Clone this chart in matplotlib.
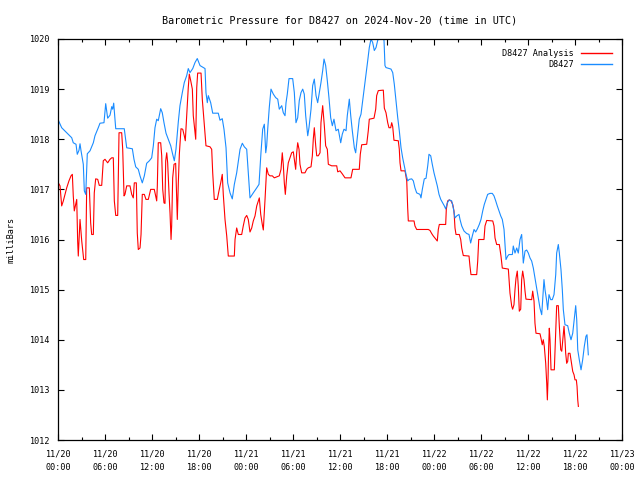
import numpy as np
import matplotlib
matplotlib.use('Agg')
import matplotlib.pyplot as plt
from matplotlib.ticker import MultipleLocator

# hours since 2024-11-20 00:00 UTC and pressure (mb)
obs_hours = [0.04, 0.47, 1.11, 1.75, 1.95, 2.30, 2.46, 2.68, 2.81, 2.94, 3.23, 3.36, 3.54,
             3.66, 3.74, 4.09, 4.51, 4.72, 5.14, 5.36, 5.87, 6.09, 6.34, 6.64, 6.86, 6.98,
             7.11, 7.28, 7.37, 8.46, 8.77, 9.49, 9.70, 9.92, 10.25, 10.47, 10.76, 11.02,
             11.32, 11.66, 11.96, 12.17, 12.38, 12.60, 12.80, 13.11, 13.31, 13.53, 13.79,
             14.08, 14.39, 14.64, 14.85, 15.06, 15.36, 15.57, 15.87, 16.12, 16.43, 16.63,
             16.85, 17.20, 17.49, 17.78, 18.13, 18.77, 18.89, 19.06, 19.19, 19.49, 19.75,
             20.46, 20.68, 20.97, 21.19, 21.45, 21.66, 21.96, 22.25, 22.51, 22.81, 23.24,
             23.53, 23.78, 24.09, 24.29, 24.51, 24.93, 25.37, 25.66, 25.91, 26.13, 26.34,
             26.52, 26.64, 26.77, 26.97, 27.19, 27.49, 27.79, 28.05, 28.25, 28.56, 28.76,
             28.98, 29.11, 29.27, 29.49, 29.96, 30.17, 30.38, 30.60, 30.80, 31.02, 31.24,
             31.44, 31.62, 31.88, 32.04, 32.30, 32.51, 32.72, 32.94, 33.15, 33.36, 33.57,
             33.79, 33.96, 34.17, 34.38, 34.59, 34.81, 35.02, 35.23, 35.49, 35.78, 36.09,
             36.29, 36.51, 36.77, 36.93, 37.19, 37.37, 37.57, 37.83, 38.00, 38.21, 38.46,
             38.68, 38.90, 39.10, 39.32, 39.54, 39.74, 39.96, 40.17, 40.38, 40.60, 40.81,
             41.11, 41.40, 41.62, 41.74, 41.87, 42.51, 42.73, 42.93, 43.15, 43.37, 43.57,
             43.79, 44.00, 44.21, 44.43, 44.64, 44.85, 45.15, 45.36, 45.57, 45.79, 46.21,
             46.34, 46.51, 46.76, 46.98, 47.20, 47.36, 47.58, 47.78, 48.00, 48.21, 48.42,
             48.64, 48.86, 49.11, 49.32, 49.49, 49.70, 49.95, 50.26, 50.46, 50.68, 50.90,
             51.19, 51.32, 51.54, 51.83, 52.17, 52.47, 52.68, 52.89, 53.11, 53.32, 53.53,
             53.78, 54.00, 54.22, 54.42, 54.64, 54.85, 55.15, 55.44, 55.66, 55.88, 56.08,
             56.30, 56.52, 56.72, 56.94, 57.06, 57.19, 57.41, 57.57, 58.00, 58.12, 58.34,
             58.56, 58.76, 58.98, 59.19, 59.32, 59.40, 59.62, 59.83, 60.04, 60.26, 60.47,
             60.68, 60.89, 61.11, 61.32, 61.53, 61.75, 61.88, 62.04, 62.17, 62.39, 62.51,
             62.68, 62.90, 63.10, 63.32, 63.54, 63.66, 63.87, 64.00, 64.21, 64.38, 64.51,
             64.72, 65.07, 65.27, 65.49, 65.71, 65.91, 66.09, 66.22, 66.35, 66.55, 66.77,
             66.98, 67.19, 67.40, 67.53, 67.70]
obs_mb = [1018.38, 1018.23, 1018.13, 1018.03, 1017.93, 1017.90, 1017.70, 1017.78, 1017.91,
          1017.77, 1017.50, 1016.97, 1016.90, 1017.40, 1017.71, 1017.77, 1017.93, 1018.07,
          1018.23, 1018.32, 1018.33, 1018.71, 1018.42, 1018.48, 1018.65, 1018.60, 1018.72,
          1018.37, 1018.21, 1018.21, 1017.83, 1017.81, 1017.60, 1017.45, 1017.40, 1017.27,
          1017.13, 1017.27, 1017.52, 1017.57, 1017.63, 1017.87, 1018.23, 1018.40, 1018.37,
          1018.61, 1018.53, 1018.33, 1018.12, 1018.00, 1017.87, 1017.70, 1017.57, 1017.80,
          1018.35, 1018.67, 1018.93, 1019.13, 1019.27, 1019.41, 1019.33, 1019.41, 1019.53,
          1019.61, 1019.47, 1019.41, 1018.93, 1018.73, 1018.87, 1018.73, 1018.52, 1018.52,
          1018.38, 1018.41, 1018.20, 1017.83, 1017.13, 1016.93, 1016.81, 1017.10, 1017.33,
          1017.80, 1017.92, 1017.85, 1017.80, 1017.33, 1016.83, 1016.93, 1017.03, 1017.10,
          1017.73, 1018.20, 1018.30, 1017.73, 1017.87, 1018.20, 1018.63, 1019.00, 1018.90,
          1018.83, 1018.80, 1018.60, 1018.67, 1018.53, 1018.47, 1018.73, 1018.90, 1019.21,
          1019.21, 1018.93, 1018.33, 1018.43, 1018.77, 1018.93, 1019.00, 1018.90, 1018.47,
          1018.07, 1018.23, 1018.60, 1019.07, 1019.20, 1018.87, 1018.73, 1018.93, 1019.13,
          1019.37, 1019.60, 1019.47, 1019.17, 1018.83, 1018.43, 1018.27, 1018.40, 1018.17,
          1018.20, 1017.93, 1018.10, 1018.20, 1018.17, 1018.47, 1018.80, 1018.47, 1018.17,
          1017.83, 1017.73, 1018.03, 1018.40, 1018.50, 1018.77, 1019.00, 1019.30, 1019.57,
          1019.83, 1020.00, 1019.93, 1019.77, 1019.83, 1019.97, 1020.05, 1020.05, 1019.97,
          1019.47, 1019.43, 1019.40, 1019.33, 1019.10, 1018.77, 1018.43, 1018.17, 1017.83,
          1017.63, 1017.47, 1017.30, 1017.17, 1017.20, 1017.21, 1017.17, 1017.03, 1016.93,
          1016.90, 1016.83, 1017.00, 1017.21, 1017.22, 1017.47, 1017.70, 1017.67, 1017.50,
          1017.33, 1017.20, 1017.07, 1016.90, 1016.80, 1016.73, 1016.67, 1016.61, 1016.73,
          1016.79, 1016.77, 1016.63, 1016.43, 1016.47, 1016.50, 1016.40, 1016.27, 1016.17,
          1016.12, 1016.10, 1015.93, 1016.07, 1016.20, 1016.15, 1016.21, 1016.30, 1016.40,
          1016.57, 1016.70, 1016.80, 1016.90, 1016.92, 1016.92, 1016.87, 1016.77, 1016.67,
          1016.57, 1016.47, 1016.40, 1016.20, 1015.90, 1015.60, 1015.67, 1015.70, 1015.70,
          1015.87, 1015.73, 1015.83, 1015.73, 1016.00, 1016.10, 1015.73, 1015.53, 1015.77,
          1015.79, 1015.73, 1015.63, 1015.57, 1015.43, 1015.23, 1015.03, 1014.83, 1014.63,
          1014.50, 1014.80, 1015.20, 1015.00, 1014.77, 1014.60, 1014.90, 1014.80, 1014.80,
          1014.90, 1015.30, 1015.73, 1015.90, 1015.73, 1015.40, 1015.00, 1014.60, 1014.30,
          1014.28, 1014.13, 1014.00, 1014.13, 1014.43, 1014.68, 1014.40, 1013.80, 1013.60,
          1013.40, 1013.60, 1013.87, 1014.07, 1014.10, 1013.70]

ana_hours = [0.04, 0.26, 0.47, 0.68, 0.89, 1.11, 1.40, 1.66, 1.83, 1.95, 2.08, 2.26, 2.39,
             2.51, 2.59, 2.81, 3.03, 3.28, 3.54, 3.66, 4.00, 4.17, 4.30, 4.51, 4.63, 4.81,
             5.07, 5.27, 5.58, 5.78, 6.00, 6.34, 6.64, 6.86, 7.06, 7.19, 7.37, 7.62, 7.79,
             8.13, 8.26, 8.43, 8.55, 8.77, 9.19, 9.41, 9.61, 9.74, 10.00, 10.12, 10.25,
             10.47, 10.60, 10.76, 11.02, 11.23, 11.53, 11.83, 12.29, 12.47, 12.60, 12.68,
             12.80, 13.11, 13.24, 13.37, 13.53, 13.66, 13.75, 13.88, 14.00, 14.17, 14.30,
             14.43, 14.51, 14.64, 14.81, 15.02, 15.15, 15.23, 15.36, 15.49, 15.70, 15.92,
             16.12, 16.25, 16.43, 16.63, 16.76, 16.94, 17.15, 17.27, 17.40, 17.58, 17.71,
             17.83, 18.26, 18.42, 18.68, 18.89, 19.40, 19.62, 19.75, 19.95, 20.34, 20.55,
             20.77, 20.97, 21.10, 21.32, 21.54, 21.74, 22.51, 22.60, 22.81, 23.02, 23.45,
             23.65, 23.87, 24.09, 24.29, 24.51, 24.73, 24.93, 25.15, 25.37, 25.57, 25.70,
             25.88, 26.08, 26.21, 26.43, 26.64, 26.85, 27.06, 27.36, 27.61, 27.92, 28.25,
             28.47, 28.63, 28.76, 28.89, 29.02, 29.20, 29.40, 29.62, 29.83, 30.04, 30.17,
             30.34, 30.47, 30.60, 30.77, 30.89, 31.11, 31.53, 31.75, 31.95, 32.30, 32.47,
             32.59, 32.72, 32.90, 33.03, 33.23, 33.45, 33.57, 33.79, 34.00, 34.17, 34.38,
             34.51, 34.94, 35.58, 35.71, 36.00, 36.29, 36.64, 37.40, 37.62, 38.46, 38.59,
             38.77, 39.41, 39.61, 39.74, 40.34, 40.56, 40.68, 40.89, 41.53, 41.66, 41.87,
             42.09, 42.25, 42.47, 42.60, 42.73, 42.89, 43.44, 43.57, 43.66, 43.79, 44.30,
             44.52, 44.64, 44.72, 45.45, 45.57, 45.79, 47.27, 47.49, 47.70, 47.91, 48.21,
             48.42, 48.55, 48.68, 49.49, 49.57, 49.75, 49.95, 50.17, 50.39, 50.55, 50.68,
             50.81, 51.23, 51.41, 51.54, 51.74, 52.47, 52.59, 52.72, 53.45, 53.58, 53.71,
             54.38, 54.51, 54.73, 55.50, 55.66, 55.79, 56.00, 56.34, 56.55, 56.72, 57.49,
             57.57, 57.70, 57.92, 58.04, 58.21, 58.34, 58.47, 58.63, 58.76, 58.89, 59.07,
             59.19, 59.32, 59.49, 59.62, 59.74, 60.47, 60.60, 60.77, 60.89, 61.02, 61.53,
             61.66, 61.82, 61.95, 62.08, 62.26, 62.39, 62.47, 62.56, 62.64, 62.72, 62.81,
             62.94, 63.36, 63.54, 63.66, 63.87, 64.00, 64.18, 64.31, 64.43, 64.60, 64.72,
             64.81, 64.94, 65.07, 65.15, 65.36, 65.58, 65.71, 65.88, 66.00, 66.17, 66.26,
             66.35, 66.43]
ana_mb = [1017.13, 1017.07, 1016.67, 1016.77, 1016.90, 1017.03, 1017.17, 1017.27, 1017.30,
          1016.87, 1016.57, 1016.70, 1016.80, 1015.97, 1015.67, 1016.40, 1015.97, 1015.60,
          1015.60, 1017.03, 1017.03, 1016.33, 1016.10, 1016.10, 1016.93, 1017.21, 1017.20,
          1017.08, 1017.08, 1017.57, 1017.60, 1017.53, 1017.60, 1017.63, 1017.63, 1016.77,
          1016.48, 1016.48, 1018.13, 1018.13, 1017.80, 1016.87, 1016.90, 1017.07, 1017.07,
          1016.90, 1016.83, 1017.13, 1017.13, 1016.13, 1015.80, 1015.83, 1016.10, 1016.90,
          1016.90, 1016.80, 1016.80, 1017.00, 1017.00, 1016.87, 1016.77, 1017.07, 1017.93,
          1017.93, 1017.67, 1017.00, 1016.73, 1016.72, 1017.57, 1017.73, 1017.53, 1016.93,
          1016.53, 1016.00, 1016.27, 1017.23, 1017.50, 1017.52, 1016.87, 1016.40, 1017.13,
          1017.70, 1018.21, 1018.20, 1018.07, 1017.97, 1018.47, 1019.03, 1019.30, 1019.17,
          1019.00, 1018.47, 1018.27, 1018.00, 1019.03, 1019.32, 1019.32, 1018.80, 1018.27,
          1017.87, 1017.85, 1017.80, 1017.33, 1016.80, 1016.80, 1016.97, 1017.13, 1017.30,
          1016.90, 1016.40, 1016.07, 1015.67, 1015.67, 1016.00, 1016.23, 1016.10, 1016.10,
          1016.27, 1016.43, 1016.48, 1016.40, 1016.15, 1016.23, 1016.37, 1016.47, 1016.67,
          1016.77, 1016.83, 1016.50, 1016.30, 1016.19, 1016.80, 1017.43, 1017.30, 1017.27,
          1017.27, 1017.23, 1017.25, 1017.27, 1017.40, 1017.73, 1017.50, 1017.13, 1016.90,
          1017.27, 1017.53, 1017.63, 1017.73, 1017.75, 1017.60, 1017.40, 1017.73, 1017.93,
          1017.80, 1017.50, 1017.33, 1017.33, 1017.40, 1017.43, 1017.45, 1017.67, 1018.00,
          1018.23, 1017.87, 1017.67, 1017.67, 1017.73, 1018.33, 1018.67, 1018.27, 1017.87,
          1017.80, 1017.50, 1017.47, 1017.47, 1017.35, 1017.37, 1017.31, 1017.23, 1017.23,
          1017.40, 1017.40, 1017.70, 1017.89, 1017.90, 1018.17, 1018.40, 1018.42, 1018.60,
          1018.87, 1018.97, 1018.98, 1018.62, 1018.53, 1018.33, 1018.23, 1018.23, 1018.33,
          1018.25, 1017.98, 1017.97, 1017.80, 1017.53, 1017.37, 1017.37, 1017.17, 1016.63,
          1016.37, 1016.37, 1016.27, 1016.20, 1016.20, 1016.18, 1016.12, 1016.07, 1016.01,
          1015.97, 1016.20, 1016.30, 1016.30, 1016.60, 1016.77, 1016.79, 1016.77, 1016.70,
          1016.57, 1016.23, 1016.10, 1016.10, 1016.00, 1015.83, 1015.68, 1015.67, 1015.47,
          1015.30, 1015.30, 1015.57, 1016.00, 1016.00, 1016.27, 1016.38, 1016.37, 1016.27,
          1016.03, 1015.90, 1015.90, 1015.67, 1015.43, 1015.41, 1015.23, 1014.93, 1014.67,
          1014.61, 1014.70, 1015.00, 1015.23, 1015.37, 1015.07, 1014.57, 1014.61, 1015.20,
          1015.37, 1015.20, 1014.97, 1014.81, 1014.80, 1014.97, 1014.77, 1014.33, 1014.13,
          1014.12, 1014.03, 1013.90, 1014.00, 1013.87, 1013.53, 1013.13, 1012.80, 1013.23,
          1013.87, 1014.23, 1014.00, 1013.40, 1013.40, 1014.20, 1014.68, 1014.68, 1014.27,
          1013.80, 1013.77, 1013.97, 1014.27, 1014.00, 1013.73, 1013.53, 1013.57, 1013.73,
          1013.73, 1013.50, 1013.37, 1013.30, 1013.20, 1013.20, 1013.07, 1012.80, 1012.67]

tick_hours = [0, 6, 12, 18, 24, 30, 36, 42, 48, 54, 60, 66, 72]
tick_labels = ['11/20\n00:00', '11/20\n06:00', '11/20\n12:00', '11/20\n18:00',
               '11/21\n00:00', '11/21\n06:00', '11/21\n12:00', '11/21\n18:00',
               '11/22\n00:00', '11/22\n06:00', '11/22\n12:00', '11/22\n18:00',
               '11/23\n00:00']

plt.rcParams['font.family'] = 'DejaVu Sans Mono'
plt.rcParams['font.size'] = 6.1

fig = plt.figure(figsize=(6.4, 4.8), dpi=100)
ax = fig.add_axes([58/640, 40/480, 564/640, 401/480])

ax.plot(ana_hours, ana_mb, color='#ff0000', lw=0.8, label='D8427 Analysis')
ax.plot(obs_hours, obs_mb, color='#1a8cff', lw=0.8, label='D8427')

ax.set_xlim(0, 72)
ax.set_ylim(1012, 1020)
ax.set_xticks(tick_hours)
ax.set_xticklabels(tick_labels, linespacing=1.6)
ax.xaxis.set_minor_locator(MultipleLocator(3))
ax.set_yticks(np.arange(1012, 1021, 1))
ax.tick_params(which='both', direction='in', top=True, right=True, width=0.8, colors='k')
ax.tick_params(axis='x', which='major', length=4, pad=7)
ax.tick_params(axis='y', which='major', length=4, pad=6)
ax.tick_params(which='minor', length=2.5)
for s in ax.spines.values():
    s.set_linewidth(0.9)

ax.set_ylabel('milliBars', labelpad=10)
ax.set_title('Barometric Pressure for D8427 on 2024-Nov-20 (time in UTC)', pad=11)

leg = ax.legend(loc='upper right', frameon=False, markerfirst=False, handlelength=3.6,
                borderaxespad=0.9, labelspacing=0.25, handletextpad=0.9, borderpad=0.3)
for h in leg.get_lines():
    h.set_linewidth(1.0)

fig.savefig('out.png', dpi=100)
